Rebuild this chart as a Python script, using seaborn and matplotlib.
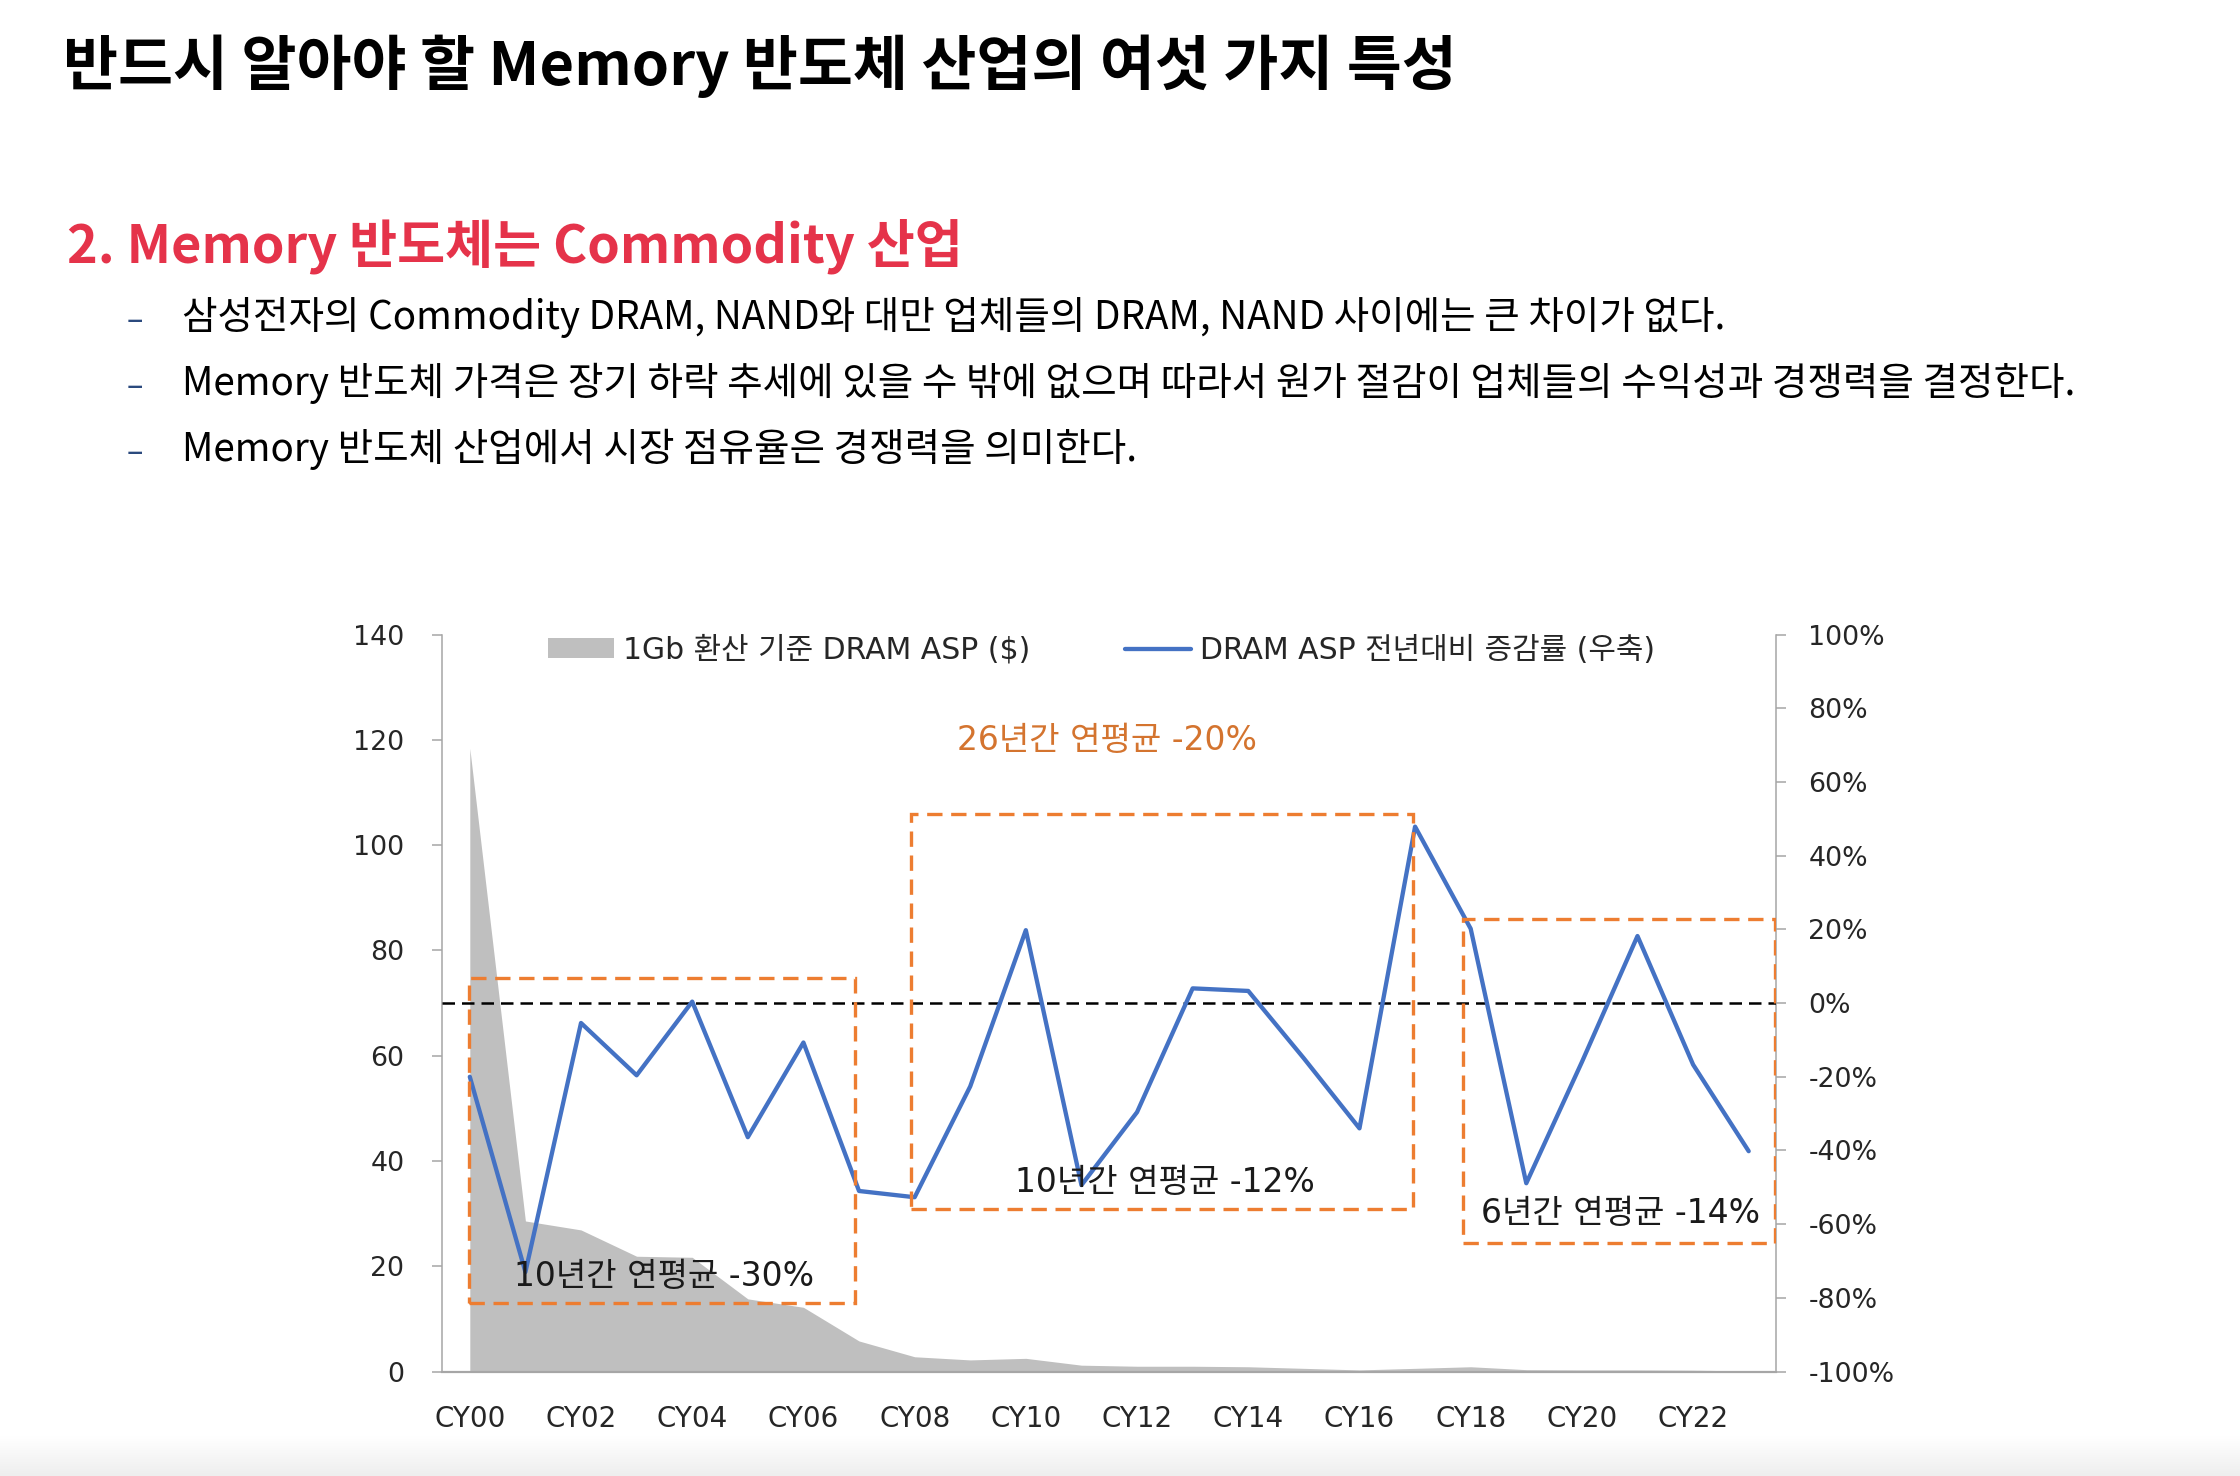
import numpy as np
import pandas as pd
import matplotlib
matplotlib.use("Agg")
import matplotlib.pyplot as plt
import seaborn as sns
from matplotlib.patches import Rectangle, Patch
from matplotlib.lines import Line2D

# ---------------- data ----------------
years = ["CY00", "CY01", "CY02", "CY03", "CY04", "CY05", "CY06", "CY07",
         "CY08", "CY09", "CY10", "CY11", "CY12", "CY13", "CY14", "CY15",
         "CY16", "CY17", "CY18", "CY19", "CY20", "CY21", "CY22", "CY23"]
asp_1gb = [118.4, 28.6, 26.9, 21.9, 21.7, 13.8, 12.2, 5.8, 2.8, 2.2, 2.5, 1.2,
           1.0, 1.0, 0.9, 0.6, 0.3, 0.6, 0.9, 0.35, 0.3, 0.3, 0.25, 0.1]
asp_yoy = [-20.0, -73.0, -5.4, -19.6, 0.4, -36.4, -10.7, -51.0, -52.7, -22.6,
           19.8, -49.4, -29.6, 4.0, 3.3, -15.0, -34.0, 47.9, 20.2, -48.9,
           -16.0, 18.2, -16.7, -40.2]
left_ticks = [0, 20, 40, 60, 80, 100, 120, 140]
right_ticks = [-100, -80, -60, -40, -20, 0, 20, 40, 60, 80, 100]

# annotation boxes: (first category, last category, top %, bottom %)
box_x0 = [-0.02, 7.93, 17.87]
box_x1 = [6.92, 16.97, 23.48]
box_top = [6.7, 51.4, 22.7]
box_bot = [-81.4, -55.9, -65.1]
box_labels = ["10년간 연평균 -30%", "10년간 연평균 -12%", "6년간 연평균 -14%"]
label_x = [3.5, 12.51, 20.7]
label_y = [-74.3, -48.6, -57.2]
overall_label = "26년간 연평균 -20%"
overall_x, overall_y = 11.46, 71.4

title = "반드시 알아야 할 Memory 반도체 산업의 여섯 가지 특성"
subtitle = "2. Memory 반도체는 Commodity 산업"
bullets = [
    "삼성전자의 Commodity DRAM, NAND와 대만 업체들의 DRAM, NAND 사이에는 큰 차이가 없다.",
    "Memory 반도체 가격은 장기 하락 추세에 있을 수 밖에 없으며 따라서 원가 절감이 업체들의 수익성과 경쟁력을 결정한다.",
    "Memory 반도체 산업에서 시장 점유율은 경쟁력을 의미한다.",
]
legend_labels = ["1Gb 환산 기준 DRAM ASP ($)", "DRAM ASP 전년대비 증감률 (우축)"]

df = pd.DataFrame({"year": years, "x": np.arange(len(years)),
                   "asp": asp_1gb, "yoy": asp_yoy})

# ---------------- style ----------------
sns.set_theme(style="white")
plt.rcParams["font.family"] = ["Noto Sans CJK KR", "DejaVu Sans"]
plt.rcParams["axes.unicode_minus"] = False
CHART_FONT = ["DejaVu Sans", "Noto Sans CJK KR"]

W, H = 2240, 1476
fig = plt.figure(figsize=(W / 100, H / 100), dpi=100)
fig.patch.set_facecolor("white")

def fx(px):
    return px / W

def fy(py):
    return 1 - py / H

# bottom faint gradient
gax = fig.add_axes([0, 0, 1, 40 / H])
grad = np.linspace(0, 1, 64).reshape(-1, 1)
gax.imshow(grad, aspect="auto", cmap=matplotlib.colors.LinearSegmentedColormap.from_list(
    "g", ["#EEEEEE", "#FFFFFF"]), origin="lower", extent=[0, 1, 0, 1])
gax.axis("off")

# ---------------- header texts ----------------
fig.text(fx(63), fy(66), title, fontsize=43, color="black", va="center",
         ha="left", fontweight="bold")
fig.text(fx(67), fy(246), subtitle, fontsize=37.6, color="#E5334A", va="center",
         ha="left", fontweight="bold")
bullet_y = [317, 383, 449]
for by, txt in zip(bullet_y, bullets):
    fig.text(fx(135), fy(by + 4), "–", fontsize=22, color="#2B4A7E", va="center", ha="center")
    fig.text(fx(182), fy(by), txt, fontsize=27.8, color="black", va="center", ha="left")

# ---------------- chart ----------------
ax = fig.add_axes([442 / W, 1 - 1371.5 / H, (1776.5 - 442) / W, (1371.5 - 634.7) / H])
ax2 = ax.twinx()

ax.fill_between(df["x"], 0, df["asp"], color="#BFBFBF", linewidth=0, zorder=1)
sns.lineplot(data=df, x="x", y="yoy", ax=ax2, color="#4472C4", linewidth=3.1,
             zorder=4, legend=False)
ax2.axhline(0, color="black", linewidth=1.8, dashes=(5, 2.8), zorder=3)

for x0, x1, t, b in zip(box_x0, box_x1, box_top, box_bot):
    ax2.add_patch(Rectangle((x0, b), x1 - x0, t - b, fill=False, edgecolor="#ED7D31",
                            linewidth=2.4, linestyle=(0, (4.6, 2.6)), zorder=5))
for lx, ly, lab in zip(label_x, label_y, box_labels):
    ax2.text(lx, ly, lab, fontsize=23.8, color="#1A1A1A", ha="center", va="center",
             zorder=6, family=CHART_FONT)
ax2.text(overall_x, overall_y, overall_label, fontsize=23.8, color="#D4742F",
         ha="center", va="center", zorder=6, family=CHART_FONT)

ax.set_xlim(-0.5, 23.5)
ax.set_ylim(0, 140)
ax2.set_ylim(-100, 100)
ax.set_yticks(left_ticks)
ax.set_yticklabels([str(v) for v in left_ticks], family=CHART_FONT)
ax2.set_yticks(right_ticks)
ax2.set_yticklabels([f"{v}%" for v in right_ticks], family=CHART_FONT)
ax.set_xticks(df["x"][::2])
ax.set_xticklabels(df["year"][::2], family=CHART_FONT)
ax.set_xticks(np.arange(-0.5, 24.0, 1.0), minor=True)
ax2.set_xlabel("")
ax2.set_ylabel("")
ax.set_xlabel("")

spine_c = "#A6A6A6"
for a in (ax, ax2):
    for s in a.spines.values():
        s.set_visible(False)
ax.spines["left"].set_visible(True)
ax.spines["bottom"].set_visible(True)
ax2.spines["right"].set_visible(True)
ax.spines["left"].set_color(spine_c)
ax.spines["bottom"].set_color(spine_c)
ax2.spines["right"].set_color(spine_c)
ax.spines["left"].set_linewidth(1.1)
ax.spines["bottom"].set_linewidth(1.6)
ax2.spines["right"].set_linewidth(1.1)

ax.tick_params(axis="x", which="major", length=0, pad=24, labelsize=20, labelcolor="#262626")
ax.tick_params(axis="x", which="minor", length=8, width=1.1, color=spine_c, direction="out")
ax.tick_params(axis="y", which="major", length=7, width=1.1, color=spine_c, direction="out",
               pad=20, labelsize=19.3, labelcolor="#262626")
ax2.tick_params(axis="y", which="major", length=7, width=1.1, color=spine_c, direction="out",
                pad=16, labelsize=19.3, labelcolor="#262626")
ax.set_facecolor("none")
ax2.set_facecolor("none")
ax.set_zorder(1)
ax2.set_zorder(2)

handles = [Patch(facecolor="#BFBFBF", edgecolor="none"),
           Line2D([0], [0], color="#4472C4", linewidth=3.1)]
leg = fig.legend(handles, legend_labels, loc="center left",
                 bbox_to_anchor=(fx(548), fy(650)), ncol=2, frameon=False,
                 prop={"family": CHART_FONT, "size": 21.5},
                 handlelength=2.2, handleheight=0.65, handletextpad=0.3,
                 columnspacing=3.2, borderpad=0, borderaxespad=0)
for t in leg.get_texts():
    t.set_color("#262626")

fig.savefig("out.png", dpi=100, facecolor="white")
